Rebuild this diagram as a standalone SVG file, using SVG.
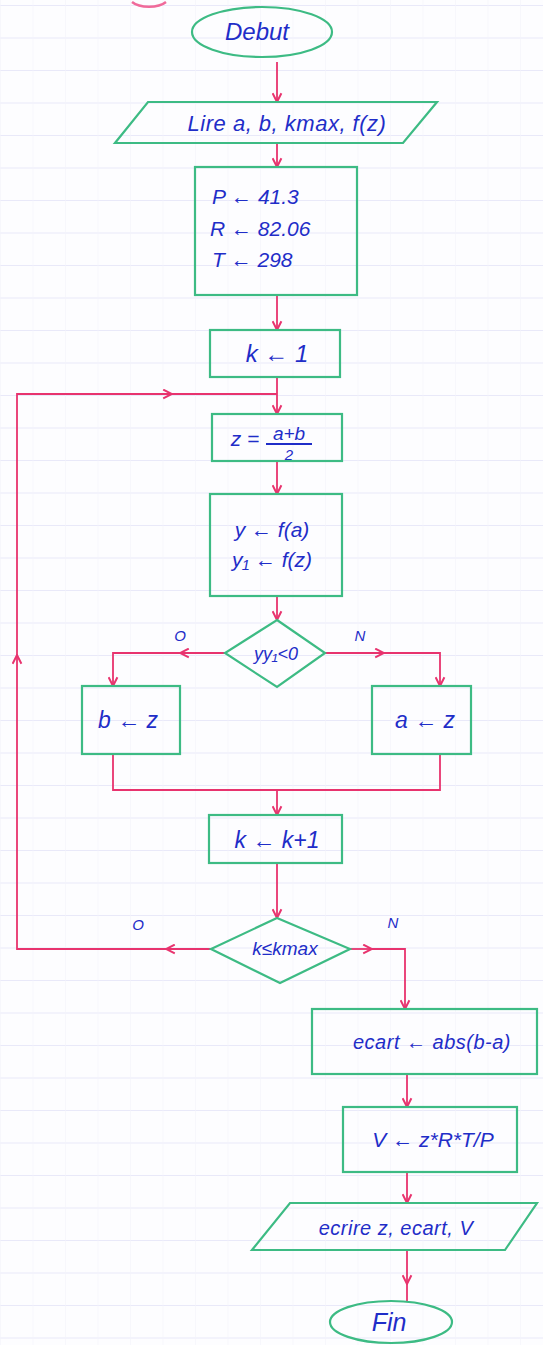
<svg xmlns="http://www.w3.org/2000/svg" width="543" height="1345" viewBox="0 0 543 1345">
<style>
.shape{fill:none;stroke:#3dbb84;stroke-width:2.2}
.con{fill:none;stroke:#e8336e;stroke-width:1.8}
.t{font-family:"Liberation Sans","DejaVu Sans",sans-serif;font-style:italic;fill:#1f2dc8;text-anchor:middle}
.ls{text-anchor:start}
.lbl{font-family:"Liberation Sans","DejaVu Sans",sans-serif;font-style:italic;fill:#1f2dc8;font-size:15px;text-anchor:middle}
</style>
<defs>
<pattern id="grid" x="0" y="5" width="32.5" height="32.5" patternUnits="userSpaceOnUse">
<line x1="0" y1="0" x2="32.5" y2="0" stroke="#d6d6f3" stroke-width="1.2"/>
<line x1="0" y1="0" x2="0" y2="32.5" stroke="#f2f2fa" stroke-width="1"/>
</pattern>
<marker id="arr" viewBox="0 0 10 10" refX="9" refY="5" markerWidth="11" markerHeight="11" markerUnits="userSpaceOnUse" orient="auto">
<path d="M1,1 L9,5 L1,9" fill="none" stroke="#e8336e" stroke-width="1.8"/>
</marker>
</defs>
<rect width="543" height="1345" fill="#fdfdff"/>
<rect width="543" height="1345" fill="url(#grid)"/>
<path d="M132,2 A20,10 0 0 0 166,2" fill="none" stroke="#f06a9a" stroke-width="2.5"/>

<g id="connectors">
<path class="con" d="M277,62 L277,102" marker-end="url(#arr)"/>
<path class="con" d="M277,143 L277,167" marker-end="url(#arr)"/>
<path class="con" d="M277,295 L277,330" marker-end="url(#arr)"/>
<path class="con" d="M277,377 L277,414" marker-end="url(#arr)"/>
<path class="con" d="M277,461 L277,494" marker-end="url(#arr)"/>
<path class="con" d="M277,596 L277,620" marker-end="url(#arr)"/>
<path class="con" d="M225,653 L180,653" marker-end="url(#arr)"/>
<path class="con" d="M180,653 L113,653 L113,686" marker-end="url(#arr)"/>
<path class="con" d="M325,653 L384,653" marker-end="url(#arr)"/>
<path class="con" d="M384,653 L440,653 L440,686" marker-end="url(#arr)"/>
<path class="con" d="M113,754 L113,790 L440,790 L440,754"/>
<path class="con" d="M277,790 L277,815" marker-end="url(#arr)"/>
<path class="con" d="M277,863 L277,918" marker-end="url(#arr)"/>
<path class="con" d="M211,949 L166,949" marker-end="url(#arr)"/>
<path class="con" d="M166,949 L17,949 L17,655" marker-end="url(#arr)"/>
<path class="con" d="M17,655 L17,394 L172,394" marker-end="url(#arr)"/>
<path class="con" d="M172,394 L277,394"/>
<path class="con" d="M350,949 L372,949" marker-end="url(#arr)"/>
<path class="con" d="M372,949 L405,949 L405,1009" marker-end="url(#arr)"/>
<path class="con" d="M407,1074 L407,1107" marker-end="url(#arr)"/>
<path class="con" d="M407,1172 L407,1203" marker-end="url(#arr)"/>
<path class="con" d="M407,1250 L407,1284" marker-end="url(#arr)"/>
<path class="con" d="M407,1284 L407,1302"/>
<text class="lbl" x="180" y="641">O</text>
<text class="lbl" x="360" y="641">N</text>
<text class="lbl" x="138" y="930">O</text>
<text class="lbl" x="393" y="928">N</text>
</g>

<g id="debut">
<ellipse class="shape" cx="262" cy="32" rx="70" ry="25"/>
<text class="t" x="257" y="40" font-size="24">Debut</text>
</g>
<g id="lire">
<polygon class="shape" points="148,102 437,102 403,143 115,143"/>
<text class="t" x="287" y="131" font-size="22" letter-spacing="0.5">Lire  a, b, kmax, f(z)</text>
</g>
<g id="init">
<rect class="shape" x="195" y="167" width="162" height="128"/>
<text class="t ls" x="212" y="204" font-size="21">P ← 41.3</text>
<text class="t ls" x="210" y="236" font-size="21">R ← 82.06</text>
<text class="t ls" x="212" y="267" font-size="21">T ←  298</text>
</g>
<g id="k1">
<rect class="shape" x="210" y="330" width="130" height="47"/>
<text class="t" x="277" y="362" font-size="24">k ← 1</text>
</g>
<g id="zcalc">
<rect class="shape" x="212" y="414" width="130" height="47"/>
<text class="t" x="245" y="446" font-size="21">z =</text>
<text class="t" x="289" y="440" font-size="19">a+b</text>
<line x1="266" y1="444" x2="312" y2="444" stroke="#1f2dc8" stroke-width="1.8"/>
<text class="t" x="289" y="460" font-size="15">2</text>
</g>
<g id="ycalc">
<rect class="shape" x="210" y="494" width="132" height="102"/>
<text class="t" x="272" y="537" font-size="21">y ← f(a)</text>
<text class="t" x="272" y="567" font-size="21">y₁ ← f(z)</text>
</g>
<g id="test1">
<polygon class="shape" points="277,620 325,653 277,687 225,653"/>
<text class="t" x="276" y="660" font-size="18">yy₁&lt;0</text>
</g>
<g id="bz">
<rect class="shape" x="82" y="686" width="98" height="68"/>
<text class="t" x="128" y="728" font-size="23">b ← z</text>
</g>
<g id="az">
<rect class="shape" x="372" y="686" width="99" height="68"/>
<text class="t" x="425" y="728" font-size="23">a ← z</text>
</g>
<g id="kinc">
<rect class="shape" x="209" y="815" width="133" height="48"/>
<text class="t" x="277" y="848" font-size="23">k ← k+1</text>
</g>
<g id="test2">
<polygon class="shape" points="277,918 350,949 280,983 211,949"/>
<text class="t" x="285" y="955" font-size="19">k≤kmax</text>
</g>
<g id="ecart">
<rect class="shape" x="312" y="1009" width="225" height="65"/>
<text class="t" x="432" y="1049" font-size="20" letter-spacing="0.5">ecart ← abs(b-a)</text>
</g>
<g id="vcalc">
<rect class="shape" x="343" y="1107" width="174" height="65"/>
<text class="t" x="433" y="1147" font-size="21">V ← z*R*T/P</text>
</g>
<g id="ecrire">
<polygon class="shape" points="290,1203 537,1203 505,1250 252,1250"/>
<text class="t" x="396" y="1235" font-size="20" letter-spacing="0.5">ecrire z, ecart, V</text>
</g>
<g id="fin">
<ellipse class="shape" cx="391" cy="1322" rx="61" ry="21"/>
<text class="t" x="389" y="1331" font-size="25">Fin</text>
</g>
</svg>
